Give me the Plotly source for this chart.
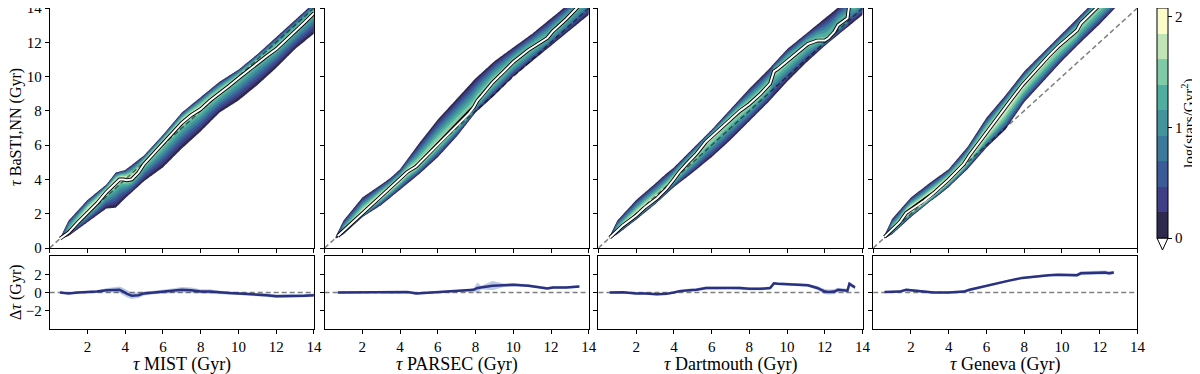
import numpy as np
import plotly.graph_objects as go

# the page body has an 8px margin, so the figure is a bit smaller than the window
OFF = 8
W, H = 1200 - OFF, 374 - OFF
FONT = "Liberation Serif, DejaVu Serif, serif"


def xp(px):
    return min(1.0, max(0.0, (px - OFF) / W))


def yp(py):
    return min(1.0, max(0.0, 1 - (py - OFF) / H))


# knots along the model-age axis (Gyr) used to describe each density ridge
knot_x = [0.6, 1, 2, 3, 3.5, 4, 5, 6, 7, 8, 9, 10, 11, 12, 13, 14]

# MIST: outer edges of the density band, peak log density, median offset
mist_lo = [0.55, 0.7, 1.5, 2.3, 2.35, 2.9, 3.9, 4.7, 5.8, 6.8, 7.9, 8.6, 9.5, 10.5, 11.6, 12.5]
mist_hi = [0.7, 1.6, 2.8, 3.7, 4.4, 4.55, 5.4, 6.6, 7.9, 8.8, 9.7, 10.4, 11.3, 12.3, 13.3, 14.3]
mist_peak = [0.4, 1.5, 1.9, 1.9, 1.85, 1.85, 1.8, 1.8, 1.8, 1.75, 1.7, 1.65, 1.6, 1.55, 1.5, 1.5]
mist_rx = [0.55, 0.8, 1.0, 1.5, 2.0, 2.5, 3.0, 3.4, 3.7, 3.9, 4.1, 4.35, 4.7, 5.0, 5.5, 6.0,
           6.5, 7.0, 7.5, 8.0, 8.5, 9.0, 9.5, 10.0, 10.5, 11.0, 11.5, 12.0, 12.5, 13.0, 13.5, 14.0]
mist_ry = [0.0, -0.05, -0.1, 0.0, 0.05, 0.1, 0.25, 0.3, 0.3, 0.1, -0.15, -0.35, -0.3, -0.1, 0.0, 0.1,
           0.2, 0.3, 0.25, 0.1, 0.1, 0.0, -0.05, -0.1, -0.15, -0.2, -0.3, -0.4, -0.4, -0.4, -0.35, -0.3]
mist_err = [0.12, 0.12, 0.12, 0.12, 0.14, 0.16, 0.22, 0.3, 0.35, 0.4, 0.4, 0.35, 0.3, 0.22, 0.2, 0.2,
            0.25, 0.3, 0.3, 0.25, 0.25, 0.2, 0.2, 0.18, 0.18, 0.18, 0.18, 0.18, 0.18, 0.18, 0.18, 0.18]

# PARSEC
parsec_lo = [0.55, 0.8, 1.8, 2.5, 2.95, 3.4, 4.3, 5.3, 6.5, 7.9, 8.9, 10.0, 10.9, 11.8, 12.7, 13.6]
parsec_hi = [0.7, 1.6, 2.95, 3.7, 4.1, 4.6, 6.1, 7.5, 8.7, 9.9, 10.9, 11.7, 12.5, 13.4, 14.3, 14.9]
parsec_peak = [0.5, 1.7, 2.05, 2.05, 2.0, 1.95, 1.85, 1.8, 1.75, 1.7, 1.65, 1.6, 1.55, 1.5, 1.45, 1.4]
parsec_rx = [0.7, 1.5, 2.2, 2.9, 3.5, 4.0, 4.4, 4.85, 5.3, 5.9, 6.5, 6.95, 7.65, 7.9, 8.1, 8.3,
             8.9, 9.5, 10.0, 10.8, 11.4, 11.8, 12.1, 12.8, 13.5]
parsec_ry = [0.0, 0.0, 0.0, 0.05, 0.0, 0.0, 0.05, -0.1, -0.05, 0.05, 0.1, 0.15, 0.2, 0.3, 0.5, 0.55,
             0.75, 0.8, 0.85, 0.75, 0.6, 0.45, 0.55, 0.55, 0.65]
parsec_err = [0.1, 0.1, 0.1, 0.1, 0.1, 0.1, 0.1, 0.12, 0.12, 0.12, 0.12, 0.12, 0.14, 0.2, 0.6, 0.2,
              0.5, 0.2, 0.16, 0.16, 0.14, 0.14, 0.14, 0.14, 0.14]

# Dartmouth
dart_lo = [0.55, 0.8, 1.65, 2.55, 3.05, 3.55, 4.4, 5.3, 6.3, 7.4, 8.5, 9.7, 10.8, 11.8, 12.7, 13.6]
dart_hi = [0.7, 1.6, 2.8, 3.75, 4.25, 4.7, 5.8, 6.9, 8.1, 9.3, 10.4, 11.6, 12.5, 13.4, 14.3, 14.8]
dart_peak = [0.5, 1.7, 2.0, 1.95, 1.9, 1.85, 1.8, 1.8, 1.75, 1.7, 1.65, 1.6, 1.55, 1.5, 1.45, 1.4]
dart_rx = [0.6, 1.3, 2.0, 2.5, 3.1, 3.6, 4.0, 4.3, 4.8, 5.2, 5.7, 6.3, 7.0, 7.5, 8.0, 8.6,
           9.1, 9.3, 9.5, 10.0, 10.5, 11.1, 11.6, 12.0, 12.2, 12.5, 12.7, 13.0, 13.2, 13.3, 13.6]
dart_ry = [0.0, 0.02, -0.1, -0.1, -0.2, -0.15, 0.0, 0.15, 0.25, 0.3, 0.5, 0.5, 0.55, 0.5, 0.4, 0.4,
           0.5, 1.0, 0.95, 0.9, 0.85, 0.8, 0.5, 0.1, 0.05, 0.1, 0.3, 0.25, 0.2, 0.95, 0.55]
dart_err = [0.1, 0.1, 0.12, 0.12, 0.12, 0.12, 0.12, 0.14, 0.16, 0.16, 0.16, 0.16, 0.16, 0.16, 0.16, 0.16,
            0.16, 0.16, 0.16, 0.16, 0.16, 0.16, 0.22, 0.28, 0.28, 0.28, 0.22, 0.22, 0.22, 0.22, 0.22]

# Geneva
gen_lo = [0.55, 0.8, 1.8, 2.7, 3.1, 3.55, 4.6, 5.85, 6.9, 8.5, 9.7, 10.9, 12.0, 13.05, 14.2, 15.0]
gen_hi = [0.75, 1.7, 2.95, 3.8, 4.2, 4.6, 5.9, 7.6, 8.9, 10.3, 11.4, 12.5, 13.6, 14.7, 15.5, 16.0]
gen_peak = [0.6, 1.8, 2.1, 2.1, 2.05, 2.0, 1.95, 1.9, 1.85, 1.8, 1.75, 1.7, 1.65, 1.6, 1.55, 1.5]
gen_rx = [0.6, 1.0, 1.4, 1.75, 2.0, 2.3, 2.7, 3.2, 4.0, 4.5, 4.8, 5.1, 5.5, 6.0, 6.7, 7.2,
          7.9, 8.5, 9.3, 9.8, 10.5, 10.8, 11.0, 11.5, 12.0, 12.3, 12.5, 12.75]
gen_ry = [0.05, 0.05, 0.1, 0.3, 0.25, 0.15, 0.05, 0.0, 0.0, 0.05, 0.1, 0.3, 0.5, 0.75, 1.05, 1.3,
          1.6, 1.75, 1.9, 1.95, 1.9, 1.9, 2.1, 2.15, 2.2, 2.2, 2.1, 2.2]
gen_err = [0.1, 0.1, 0.12, 0.14, 0.14, 0.12, 0.12, 0.12, 0.12, 0.12, 0.12, 0.12, 0.12, 0.12, 0.12, 0.12,
           0.12, 0.12, 0.14, 0.14, 0.14, 0.18, 0.22, 0.22, 0.22, 0.22, 0.22, 0.18]

# colour bands of the density contours (lowest to highest)
band_colors = ["#2e2a4f", "#3e3f86", "#3b5b98", "#3b7a9a", "#41939c",
               "#4fae9f", "#80cba7", "#c0e4b6", "#fbfcca"]
level_step = 0.2311
cbar_ticks = [0, 1, 2]

panels = [
    dict(name="MIST", lo=mist_lo, hi=mist_hi, peak=mist_peak, p_lo=0.9, p_hi=2.2,
         rx=mist_rx, ry=mist_ry, err=mist_err),
    dict(name="PARSEC", lo=parsec_lo, hi=parsec_hi, peak=parsec_peak, p_lo=1.3, p_hi=1.3,
         rx=parsec_rx, ry=parsec_ry, err=parsec_err),
    dict(name="Dartmouth", lo=dart_lo, hi=dart_hi, peak=dart_peak, p_lo=1.3, p_hi=1.4,
         rx=dart_rx, ry=dart_ry, err=dart_err),
    dict(name="Geneva", lo=gen_lo, hi=gen_hi, peak=gen_peak, p_lo=1.8, p_hi=1.4,
         rx=gen_rx, ry=gen_ry, err=gen_err),
]

grid = np.round(np.arange(0, 14.001, 0.05), 3)


def density(pan):
    """log density on the grid, built from the read ridge edges and peak values"""
    X, Y = np.meshgrid(grid, grid)
    med = X + np.interp(X, pan["rx"], pan["ry"])
    lo = np.interp(X, knot_x, pan["lo"])
    hi = np.interp(X, knot_x, pan["hi"])
    pk = np.interp(X, knot_x, pan["peak"])
    up = Y >= med
    t = np.where(up, (Y - med) / np.maximum(hi - med, 0.05),
                 (med - Y) / np.maximum(med - lo, 0.05))
    z = pk * (1 - t ** np.where(up, pan["p_hi"], pan["p_lo"]))
    z[X < knot_x[0]] = -1
    return np.round(np.clip(z, -1, None), 3)


def stepped(colors, lead=None):
    """stepped colourscale; optional lead colour for the region under the first level"""
    cols = ([lead] if lead else []) + list(colors)
    if lead:
        cols = cols + [colors[-1]]
    n = len(cols)
    scale = []
    for i, c in enumerate(cols):
        if lead:
            a, b = max(0, (i - 0.5) / (n - 1)), min(1, (i + 0.5) / (n - 1))
        else:
            a, b = i / n, (i + 1) / n
        scale += [[a, c], [b, c]]
    return scale


fill_scale = stepped(band_colors, lead="white")
bar_scale = stepped(band_colors)

# panel geometry in window pixels
lefts = [49.7, 324.6, 598.4, 873.2]
pw = 264.2
top_y = (8, 248)
bot_y = (256, 329)

fig = go.Figure()
layout = {}
annotations = []
axis_base = dict(showgrid=False, zeroline=False, showline=True, mirror=True,
                 linecolor="black", linewidth=1, ticks="outside", ticklen=4, tickwidth=1,
                 tickcolor="black", ticklabeloverflow="allow", automargin=False,
                 tickfont=dict(family=FONT, size=15, color="black"))

for i, pan in enumerate(panels):
    xt, yt = f"x{i + 1}", f"y{i + 1}"
    xb, yb = f"x{i + 5}", f"y{i + 5}"
    xdom = [xp(lefts[i]), xp(lefts[i] + pw)]

    fig.add_trace(go.Contour(
        x=grid, y=grid, z=density(pan), xaxis=xt, yaxis=yt,
        autocontour=False,
        contours=dict(start=0, end=9 * level_step, size=level_step,
                      coloring="fill", showlines=False),
        colorscale=fill_scale, showscale=False, line_width=0, hoverinfo="skip"))
    fig.add_trace(go.Scatter(x=[0, 14], y=[0, 14], xaxis=xt, yaxis=yt, mode="lines",
                             line=dict(color="rgba(0,0,0,0.5)", width=1.5, dash="5px,3px"),
                             hoverinfo="skip"))
    med_x = pan["rx"]
    med_y = [a + b for a, b in zip(pan["rx"], pan["ry"])]
    fig.add_trace(go.Scatter(x=med_x, y=med_y, xaxis=xt, yaxis=yt, mode="lines",
                             line=dict(color="black", width=3.8), hoverinfo="skip"))
    fig.add_trace(go.Scatter(x=med_x, y=med_y, xaxis=xt, yaxis=yt, mode="lines",
                             line=dict(color="white", width=2.0), hoverinfo="skip"))

    # residual panel
    up = [a + e for a, e in zip(pan["ry"], pan["err"])]
    dn = [a - e for a, e in zip(pan["ry"], pan["err"])]
    fig.add_trace(go.Scatter(x=list(pan["rx"]) + list(pan["rx"])[::-1], y=up + dn[::-1],
                             xaxis=xb, yaxis=yb, mode="lines", fill="toself",
                             fillcolor="#bccbe6", line=dict(width=0), hoverinfo="skip"))
    fig.add_trace(go.Scatter(x=[0, 14], y=[0, 0], xaxis=xb, yaxis=yb, mode="lines",
                             line=dict(color="rgba(0,0,0,0.5)", width=1.5, dash="5px,3px"),
                             hoverinfo="skip"))
    fig.add_trace(go.Scatter(x=pan["rx"], y=pan["ry"], xaxis=xb, yaxis=yb, mode="lines",
                             line=dict(color="#2b3181", width=2.5), hoverinfo="skip"))

    layout[f"xaxis{i + 1}"] = dict(axis_base, domain=xdom, anchor=yt, range=[0, 14],
                                   tickvals=list(range(0, 15, 2)), showticklabels=False)
    layout[f"yaxis{i + 1}"] = dict(axis_base, domain=[yp(top_y[1]), yp(top_y[0])],
                                   anchor=xt, range=[0, 14], tickvals=list(range(0, 15, 2)),
                                   showticklabels=(i == 0))
    layout[f"xaxis{i + 5}"] = dict(axis_base, domain=xdom, anchor=yb, range=[0, 14],
                                   tickvals=list(range(2, 15, 2)))
    layout[f"yaxis{i + 5}"] = dict(axis_base, domain=[yp(bot_y[1]), yp(bot_y[0])],
                                   anchor=xb, range=[-4, 4], tickvals=[-2, 0, 2],
                                   showticklabels=(i == 0))

    annotations.append(dict(x=xp(lefts[i] + pw / 2), y=yp(364), xref="paper", yref="paper",
                            text=f"<i>τ</i> {pan['name']} (Gyr)", showarrow=False,
                            font=dict(family=FONT, size=18, color="black"),
                            xanchor="center", yanchor="middle"))

# dummy trace carrying the shared colourbar
fig.add_trace(go.Scatter(
    x=[-5, -5], y=[-5, -5], xaxis="x1", yaxis="y1", mode="markers", hoverinfo="skip",
    marker=dict(color=[0, 9 * level_step], cmin=0, cmax=9 * level_step, colorscale=bar_scale,
                showscale=True, size=1,
                colorbar=dict(x=xp(1157), xanchor="left", xpad=0, thickness=11,
                              len=230, lenmode="pixels", y=yp(123), yanchor="middle", ypad=0,
                              outlinewidth=1, outlinecolor="black", ticks="outside", ticklen=4,
                              tickcolor="black", tickvals=cbar_ticks,
                              tickfont=dict(family=FONT, size=15, color="black")))))

for txt, xc, yc, fs in [("<i>τ</i> BaSTI,NN (Gyr)", 16, 127, 16), ("Δ<i>τ</i> (Gyr)", 16, 292, 16),
                        ("log(stars/Gyr<sup>2</sup>)", 1188, 124, 15)]:
    annotations.append(dict(x=xp(xc), y=yp(yc), text=txt, textangle=-90,
                            xref="paper", yref="paper", showarrow=False,
                            xanchor="center", yanchor="middle",
                            font=dict(family=FONT, size=fs, color="black")))

# extension triangle under the colourbar
x0, x1, y0, y1 = xp(1157), xp(1168), yp(238), yp(250)
shapes = [dict(type="path", xref="paper", yref="paper",
               path=f"M {x0},{y0} L {x1},{y0} L {(x0 + x1) / 2},{y1} Z",
               fillcolor="white", line=dict(color="black", width=1))]

fig.update_layout(width=W, height=H, margin=dict(l=0, r=0, t=0, b=0, autoexpand=False),
                  paper_bgcolor="white", plot_bgcolor="white", showlegend=False,
                  annotations=annotations, shapes=shapes, **layout)

fig.write_html("out.html")
